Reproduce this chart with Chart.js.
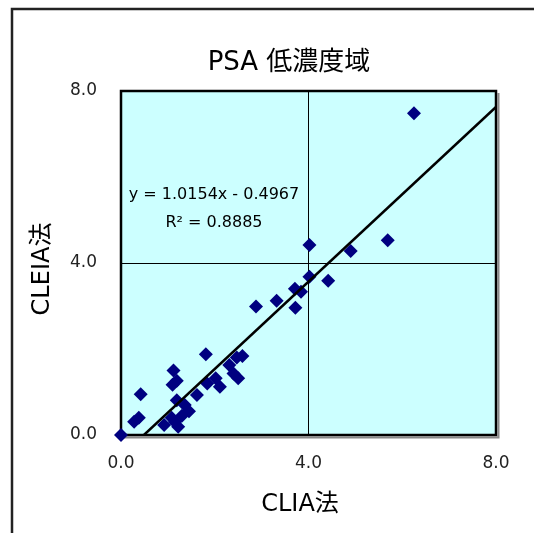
<!DOCTYPE html>
<html>
<head>
<meta charset="utf-8">
<script src="https://cdn.jsdelivr.net/npm/chart.js@4"></script>
<style>
html,body{margin:0;padding:0;background:#fff;}
#wrap{width:534px;height:533px;position:relative;}
</style>
</head>
<body>
<div id="wrap"><canvas id="c" width="534" height="533"></canvas></div>
<script>
// ---- data ----
const chartTitle = "PSA 低濃度域";
const xAxisTitle = "CLIA法";
const yAxisTitle = "CLEIA法";
const equationLines = ["y = 1.0154x - 0.4967", "R² = 0.8885"];
const tickValues = [0, 4, 8];

const cliaValues = [
  0.00, 0.28, 0.38, 0.42, 0.92, 1.08, 1.22, 1.15,
  1.19, 1.36, 1.62, 1.45, 1.30,
  1.12, 1.19, 1.10,
  1.81, 1.84, 2.02, 2.11,
  2.31, 2.47, 2.59, 2.40, 2.50,
  2.88, 3.32, 3.71, 3.84, 3.72,
  4.02, 4.42, 4.02, 4.90, 5.69, 6.25
];
const cleiaValues = [
  0.00, 0.31, 0.40, 0.95, 0.23, 0.40, 0.19, 0.30,
  0.81, 0.70, 0.93, 0.55, 0.45,
  1.50, 1.26, 1.17,
  1.88, 1.20, 1.32, 1.12,
  1.63, 1.80, 1.84, 1.43, 1.32,
  2.99, 3.12, 3.40, 3.33, 2.96,
  3.68, 3.59, 4.42, 4.28, 4.53, 7.48
];
// trend line end points (y = 1.0154x - 0.4967 drawn across the plot)
const trendX = [0.489, 8.0];
const trendY = [0.0, 7.627];

const FONT = "'DejaVu Sans', 'Noto Sans CJK JP', sans-serif";

const scatterPoints = cliaValues.map((x, i) => ({x: x, y: cleiaValues[i]}));
const trendPoints = trendX.map((x, i) => ({x: x, y: trendY[i]}));

const decor = {
  id: 'decor',
  beforeDraw(chart) {
    const ctx = chart.ctx, a = chart.chartArea;
    ctx.save();
    ctx.fillStyle = '#ffffff';
    ctx.fillRect(0, 0, chart.width, chart.height);
    // outer frame (extends beyond window on right/bottom)
    ctx.strokeStyle = '#222';
    ctx.lineWidth = 2.5;
    ctx.beginPath();
    ctx.moveTo(12, 540);
    ctx.lineTo(12, 9);
    ctx.lineTo(540, 9);
    ctx.stroke();
    // plot background
    ctx.fillStyle = '#CCFFFF';
    ctx.fillRect(a.left, a.top, a.right - a.left, a.bottom - a.top);
    ctx.restore();
  },
  beforeDatasetsDraw(chart) {
    const ctx = chart.ctx, a = chart.chartArea;
    ctx.save();
    // shadow on right/bottom
    ctx.strokeStyle = '#888';
    ctx.lineWidth = 2;
    ctx.beginPath();
    ctx.moveTo(a.right + 2.5, a.top + 2);
    ctx.lineTo(a.right + 2.5, a.bottom + 2.5);
    ctx.lineTo(a.left + 2, a.bottom + 2.5);
    ctx.stroke();
    ctx.strokeStyle = '#000';
    ctx.lineWidth = 2.5;
    ctx.strokeRect(a.left, a.top, a.right - a.left, a.bottom - a.top);
    ctx.restore();
  },
  afterDraw(chart) {
    const ctx = chart.ctx;
    ctx.save();
    ctx.fillStyle = '#000';
    ctx.textAlign = 'center';
    ctx.textBaseline = 'middle';
    ctx.font = "26px " + FONT;
    ctx.fillText(chartTitle, 289, 63);
    ctx.font = "24px " + FONT;
    ctx.fillText(xAxisTitle, 300, 505);
    ctx.save();
    ctx.translate(43, 269);
    ctx.rotate(-Math.PI / 2);
    ctx.fillText(yAxisTitle, 0, 0);
    ctx.restore();
    ctx.font = "16px " + FONT;
    ctx.fillText(equationLines[0], 214, 195);
    ctx.fillText(equationLines[1], 214, 223);
    ctx.restore();
  }
};

const gridColor = (ctx) => (ctx.tick && ctx.tick.value === 4) ? '#000' : 'rgba(0,0,0,0)';

new Chart(document.getElementById('c'), {
  type: 'scatter',
  data: {
    datasets: [
      {
        type: 'line',
        data: trendPoints,
        borderColor: '#000',
        borderWidth: 2.5,
        pointRadius: 0,
        fill: false,
        tension: 0
      },
      {
        data: scatterPoints,
        clip: false,
        pointStyle: 'rectRot',
        pointRadius: 7,
        pointHoverRadius: 7,
        backgroundColor: '#000080',
        borderColor: '#000080',
        borderWidth: 0
      }
    ]
  },
  plugins: [decor],
  options: {
    responsive: false,
    animation: false,
    events: [],
    layout: { padding: { top: 91, right: 38, left: 0, bottom: 0 } },
    plugins: { legend: { display: false }, tooltip: { enabled: false }, title: { display: false } },
    scales: {
      x: {
        type: 'linear', min: 0, max: 8,
        afterBuildTicks(s) { s.ticks = tickValues.map(v => ({value: v})); },
        afterFit(s) { s.height = 98; },
        border: { display: false },
        grid: { color: gridColor, lineWidth: 1, drawTicks: false },
        ticks: { padding: 18, color: '#222', font: { family: FONT, size: 17 }, callback: v => Number(v).toFixed(1), maxRotation: 0 }
      },
      y: {
        type: 'linear', min: 0, max: 8,
        afterBuildTicks(s) { s.ticks = tickValues.map(v => ({value: v})); },
        afterFit(s) { s.width = 121; },
        border: { display: false },
        grid: { color: gridColor, lineWidth: 1, drawTicks: false },
        ticks: { padding: 24, color: '#222', font: { family: FONT, size: 17 }, callback: v => Number(v).toFixed(1) }
      }
    }
  }
});
</script>
</body>
</html>
